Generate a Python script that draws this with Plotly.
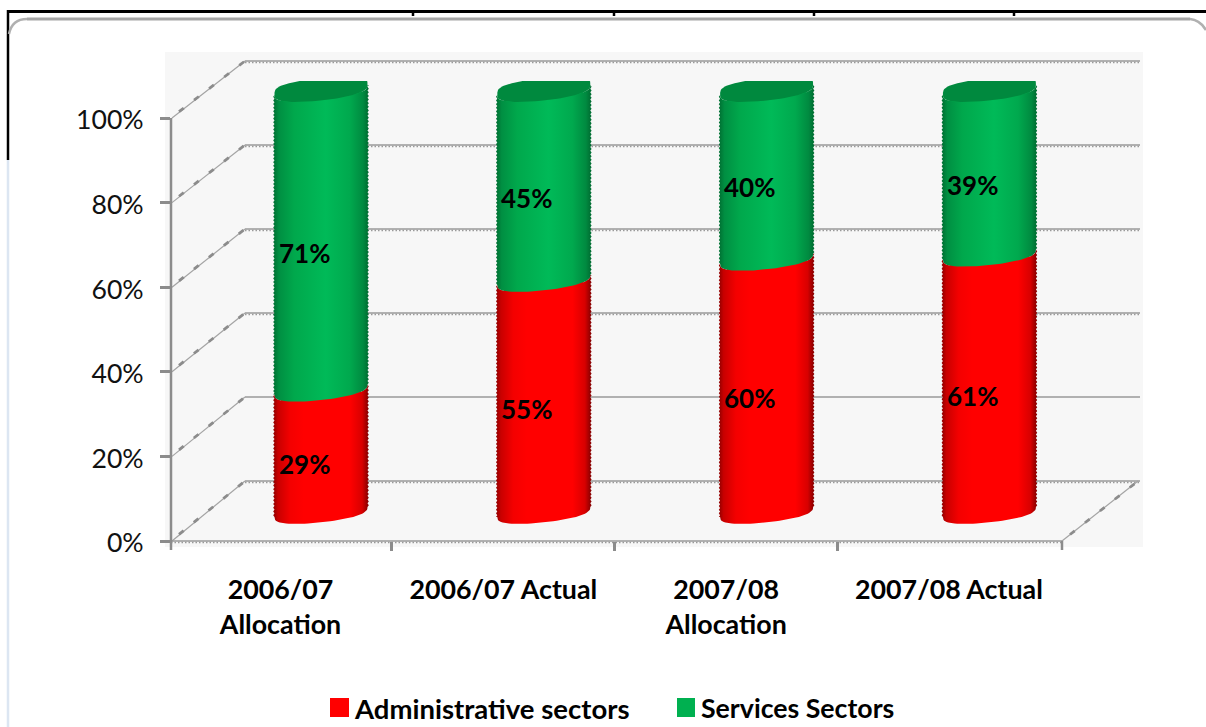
import numpy as np
import plotly.graph_objects as go

categories = ["2006/07<br>Allocation", "2006/07 Actual", "2007/08<br>Allocation", "2007/08 Actual"]
administrative = [29, 55, 60, 61]
services = [71, 45, 40, 39]
percent_ticks = [0, 20, 40, 60, 80, 100]
series_names = ["Administrative sectors", "Services Sectors"]

FONT = "Lato"
AXIS_GREY = "#8c8c8c"
RED = "#ff0000"
GREEN = "#00b050"

# Plot rectangle in page pixels
LEFT, RIGHT, TOP, BOTTOM = 171, 1143, 52, 541
Y_SCALE = 4.23     # pixels per percentage point on the front wall
BACK_SCALE = 4.2   # pixels per percentage point on the back wall
CYL_SCALE = 4.22   # pixels per percentage point at the cylinders' depth
STEP = 222.8       # pixels per category
FRONT_X0 = 280.5   # first category on the front edge
CYL_X0 = 321.0     # first cylinder centre
CYL_Y0 = 512.0     # cylinder base centre
BACK_LEFT, BACK_RIGHT, BACK_FLOOR = 245, 1140, 481


def px(x):
    return (x - LEFT) / (RIGHT - LEFT)


def py(y):
    return (BOTTOM - y) / (BOTTOM - TOP)


def line(x0, y0, x1, y1, color=AXIS_GREY, width=1.5, dash="solid", layer="below"):
    return dict(type="line", xref="paper", yref="paper", x0=px(x0), y0=py(y0), x1=px(x1), y1=py(y1),
                line=dict(color=color, width=width, dash=dash), layer=layer)


shapes = [dict(type="rect", xref="paper", yref="paper", x0=px(165), x1=px(1143), y0=py(547), y1=py(52),
               fillcolor="#f7f7f7", line_width=0, layer="below")]

# Walls: back-wall gridlines, side-wall diagonals and the floor
plain_levels = {20}
for tick in percent_ticks:
    front_y = BOTTOM - tick * Y_SCALE
    back_y = BACK_FLOOR - tick * BACK_SCALE
    shapes.append(line(LEFT + 1, front_y, BACK_LEFT, back_y, "#a4a4a4", 1.2))
    shapes.append(line(LEFT + 8, front_y + (back_y - front_y) * 0.11, BACK_LEFT, back_y,
                       "#8c8c8c", 2.8, "6px,13px"))
    shapes.append(line(BACK_LEFT, back_y, BACK_RIGHT, back_y, "#9a9a9a", 1.6))
    if tick not in plain_levels:
        shapes.append(line(BACK_LEFT, back_y + 1.5, BACK_RIGHT, back_y + 1.5, "#9a9a9a", 1.5, "1.5px,2px"))

floor_right = 1062
shapes += [
    line(LEFT, BOTTOM, floor_right, BOTTOM, "#9a9a9a", 1.6),
    line(LEFT, BOTTOM + 1.5, floor_right, BOTTOM + 1.5, "#9a9a9a", 1.5, "1.5px,2px"),
    line(floor_right, BOTTOM, BACK_RIGHT - 2, BACK_FLOOR, "#a4a4a4", 1.2),
    line(floor_right + 8, BOTTOM - 6.5, BACK_RIGHT - 2, BACK_FLOOR, "#8c8c8c", 2.8, "6px,13px"),
    line(floor_right, BOTTOM, floor_right, BOTTOM + 9, AXIS_GREY, 2.5),
    # Vertical axis stops at the 100% tick
    line(LEFT, BOTTOM - 100 * Y_SCALE, LEFT, BOTTOM + 9, AXIS_GREY, 2.5),
]

# Surrounding frame
shapes += [
    line(7, 11.5, 1206, 11.5, "#000000", 3, layer="above"),
    line(8, 10, 8, 160, "#000000", 2.5, layer="above"),
    line(8, 160, 8, 727, "#dce6f2", 2.5, layer="above"),
    line(27, 19, 1190, 19, "#a6a6a6", 3, layer="above"),
]
for notch in (413, 614, 814, 1014):
    shapes.append(line(notch, 12, notch, 16, "#000000", 2.5, layer="above"))
corner_left = f"M {px(27)},{py(19)} Q {px(12)},{py(19)} {px(9)},{py(34)}"
corner_right = f"M {px(1190)},{py(19)} Q {px(1200)},{py(20)} {px(1206)},{py(30)}"
for path in (corner_left, corner_right):
    shapes.append(dict(type="path", xref="paper", yref="paper", path=path,
                       line=dict(color="#b0b0b0", width=2.5), layer="above"))

# Legend swatches
shapes += [
    dict(type="rect", xref="paper", yref="paper", x0=px(330), x1=px(349), y0=py(717), y1=py(698),
         fillcolor=RED, line_width=0, layer="above"),
    dict(type="rect", xref="paper", yref="paper", x0=px(677), x1=px(695), y0=py(717), y1=py(698),
         fillcolor=GREEN, line_width=0, layer="above"),
]

# Cylinder outline geometry, in pixels relative to a section's centre
HALF_W = 46.5
FRONT_B, BACK_B, ELL_S, BACK_LIMIT = 10.5, 12.0, -5.0, -9.0
RED_SCALE = [[0, "#8e0000"], [0.05, "#c80000"], [0.18, "#f40000"], [0.32, "#ff0000"],
             [0.8, "#ff0000"], [0.93, "#d80000"], [1, "#800000"]]
GREEN_SCALE = [[0, "#006e32"], [0.06, "#008f42"], [0.22, "#00a84c"], [0.55, "#00ba58"],
               [0.8, "#00a94e"], [0.94, "#008a40"], [1, "#006a30"]]
CAP_COLOR = "#00893e"


def ring(center, level, start, stop, n=40):
    # Squarer than a true ellipse: right end tipped upwards, far edge flattened
    t = np.linspace(start, stop, n)
    sin_t = np.sin(t)
    tilt = ELL_S * np.cos(t)
    front = FRONT_B * np.abs(sin_t) ** 0.7 + tilt
    back = np.maximum(-BACK_B * np.abs(sin_t) ** 0.5 + tilt, BACK_LIMIT)
    offset = np.where(sin_t >= 0, front, back)
    xs = center + HALF_W * np.cos(t) / STEP
    ys = level - offset / CYL_SCALE
    return xs, ys


def side(center, level_a, level_b, sign):
    # Sawtooth edge running from level_a to level_b along one flank
    span = abs(level_b - level_a) * CYL_SCALE
    n = max(int(span / 1.8), 2)
    levels = np.linspace(level_a, level_b, n)
    teeth = np.where(np.arange(n) % 2 == 0, 0.0, 1.3) * sign
    offset = (ELL_S * sign) / CYL_SCALE
    return center + (sign * HALF_W + teeth) / STEP, levels - offset


def section(center, low, high):
    bx, by = ring(center, low, np.pi, 0)
    rx, ry = side(center, low, high, 1)
    tx, ty = ring(center, high, 0, np.pi)
    lx, ly = side(center, high, low, -1)
    return np.concatenate([bx, rx, tx, lx]), np.concatenate([by, ry, ty, ly])


positions = list(range(len(categories)))
fig = go.Figure()

fig.add_bar(x=positions, y=administrative, name=series_names[0], marker_color=RED, width=0.36,
            xaxis="x2", yaxis="y2", showlegend=False)
fig.add_bar(x=positions, y=services, name=series_names[1], marker_color=GREEN, width=0.36,
            xaxis="x2", yaxis="y2", showlegend=False)

annotations = []
for i, (adm, srv) in enumerate(zip(administrative, services)):
    total = adm + srv
    xs, ys = section(i, 0, adm)
    fig.add_scatter(x=xs, y=ys, mode="lines", line_width=0, fill="toself", xaxis="x2", yaxis="y2",
                    fillgradient=dict(type="horizontal", colorscale=RED_SCALE),
                    hoverinfo="skip", showlegend=False)
    xs, ys = section(i, adm, total)
    fig.add_scatter(x=xs, y=ys, mode="lines", line_width=0, fill="toself", xaxis="x2", yaxis="y2",
                    fillgradient=dict(type="horizontal", colorscale=GREEN_SCALE),
                    hoverinfo="skip", showlegend=False)
    cx, cy = ring(i, total, 0, 2 * np.pi, 90)
    fig.add_scatter(x=cx, y=cy, mode="lines", line_width=0, fill="toself", fillcolor=CAP_COLOR,
                    xaxis="x2", yaxis="y2", hoverinfo="skip", showlegend=False)
    for low, value in ((0, adm), (adm, srv)):
        annotations.append(dict(x=i, y=low + value / 2, xref="x2", yref="y2", text=f"{value}%",
                                showarrow=False, xshift=-17, yshift=-13,
                                font=dict(family=FONT, size=26, color="#000000", weight="bold")))

for x_text, name, size in ((352, series_names[0], 27.5), (699, series_names[1], 26.7)):
    annotations.append(dict(x=px(x_text), y=py(708), xref="paper", yref="paper", text=name,
                            xanchor="left", yanchor="middle", showarrow=False,
                            font=dict(family=FONT, size=size, color="#000000", weight="bold")))

front_left = (LEFT - FRONT_X0) / STEP
front_right = (RIGHT - FRONT_X0) / STEP
cyl_left = (LEFT - CYL_X0) / STEP
cyl_right = (RIGHT - CYL_X0) / STEP
y_top = (BOTTOM - TOP) / Y_SCALE
cyl_bottom = -(BOTTOM - CYL_Y0) / CYL_SCALE
cyl_top = (CYL_Y0 - TOP) / CYL_SCALE

# Transparent markers keep the main axes in use for labels and ticks
fig.add_scatter(x=positions, y=[0] * len(positions), mode="markers", marker_opacity=0,
                hoverinfo="skip", showlegend=False)

fig.update_layout(
    width=1206, height=727,
    margin=dict(l=LEFT, r=1206 - RIGHT, t=TOP, b=727 - BOTTOM, autoexpand=False),
    paper_bgcolor="#ffffff", plot_bgcolor="rgba(0,0,0,0)",
    barmode="stack", showlegend=False, shapes=shapes, annotations=annotations,
    xaxis=dict(range=[front_left, front_right], tickmode="array", tickvals=positions, ticktext=categories,
               ticks="", ticklen=0, showgrid=False, zeroline=False, showline=False,
               ticklabelstandoff=30,
               tickfont=dict(family=FONT, size=26.8, color="#000000", weight="bold"),
               minor=dict(tickmode="array", tickvals=[0.5, 1.5, 2.5], ticks="outside", ticklen=9,
                          tickwidth=2.5, tickcolor=AXIS_GREY, showgrid=False)),
    yaxis=dict(range=[0, y_top], tickmode="array", tickvals=percent_ticks,
               ticktext=[f"{t}%" for t in percent_ticks], ticks="outside", ticklen=10, tickwidth=2.5,
               tickcolor=AXIS_GREY, showgrid=False, zeroline=False, showline=False,
               ticklabelstandoff=11, ticklabelshift=2,
               tickfont=dict(family=FONT, size=26.6, color="#111111")),
    xaxis2=dict(overlaying="x", range=[cyl_left, cyl_right], visible=False, anchor="y2"),
    yaxis2=dict(overlaying="y", range=[cyl_bottom, cyl_top], visible=False, anchor="x2"),
)

fig.write_html("out.html")
